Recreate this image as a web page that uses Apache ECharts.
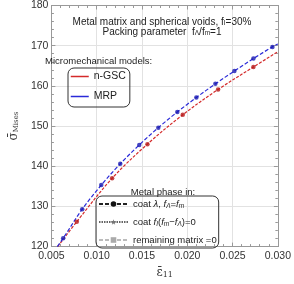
<!DOCTYPE html>
<html><head><meta charset="utf-8">
<script src="https://cdn.jsdelivr.net/npm/echarts@6/dist/echarts.min.js"></script>
<style>html,body{margin:0;padding:0;background:#fff}#c{width:294px;height:284px}</style>
</head><body><div id="c"></div>
<script>
// ---- data ----
const xMin = 0.005, xMax = 0.030, xStep = 0.005;
const yMin = 120, yMax = 180, yStep = 10;

const blueMarkEps = [0.0063, 0.0084, 0.0105, 0.0126, 0.0147, 0.0168, 0.0189, 0.0210, 0.0231, 0.0252, 0.0273, 0.0294];
const blueMarkSig = [122.1, 129.3, 135.3, 140.6, 145.3, 149.6, 153.5, 157.1, 160.5, 163.7, 166.8, 169.7];
const blueStart = [0.00565, 120.0];
const blueEnd = [0.0300, 170.4];

const redMarkEps = [0.0078, 0.0117, 0.0156, 0.0195, 0.0234, 0.0273];
const redMarkSig = [126.2, 137.0, 145.5, 152.8, 159.1, 164.7];
const redStart = [0.0057, 120.0];
const redEnd = [0.0300, 168.5];

const modelNames = ['n-GSC', 'MRP'];
const phaseNames = ['coatL', 'coatF', 'remain'];
// ---------------------------------------

const zip = (a, b) => a.map((v, i) => [v, b[i]]);
const redMarks = zip(redMarkEps, redMarkSig);
const blueMarks = zip(blueMarkEps, blueMarkSig);
const redLine = [redStart, ...redMarks, redEnd];
const blueLine = [blueStart, ...blueMarks, blueEnd];

const RED = '#d42a2a', REDM = '#b51818', BLUE = '#2a2ad8', BLUEM = '#1818b0';
const FONT = 'Liberation Sans';
const STAR = 'path://M50,0 L61,35 L98,35 L68,57 L79,91 L50,70 L21,91 L32,57 L2,35 L39,35 Z';

const chart = echarts.init(document.getElementById('c'), null, {renderer: 'canvas'});

const axisCommon = {
  axisLine: {show: true, lineStyle: {color: '#999', width: 1}},
  axisTick: {show: true, inside: true, length: 4, lineStyle: {color: '#999'}},
  minorTick: {show: true, splitNumber: 5, length: 2.5, lineStyle: {color: '#999'}}
};

const subRich = {
  i: {fontStyle: 'italic', fontFamily: FONT, fontSize: 9.5, color: '#222'},
  sub: {fontStyle: 'italic', fontFamily: FONT, fontSize: 6.5, verticalAlign: 'bottom', padding: [4, 0, 0, 0], color: '#222'},
  n: {fontFamily: FONT, fontSize: 9.5, color: '#222'}
};

const phaseLabels = {
  coatL: '{n|coat }{i|λ}{n|, }{i|f}{sub|Λ}{n|=}{i|f}{sub|m}',
  coatF: '{n|coat }{i|f}{sub|I}{n|(}{i|f}{sub|m}{n|−}{i|f}{sub|Λ}{n|)=0}',
  remain: '{n|remaining matrix =0}'
};

chart.setOption({
  animation: false,
  backgroundColor: '#fff',
  grid: {left: 32, right: 12, top: 5, bottom: 28},
  title: [
    {
      text: 'Metal matrix and spherical voids, f{s|I}=30%\nPacking parameter  f{s|Λ}/f{s|m}=1',
      left: 157, top: 12, textAlign: 'center',
      textStyle: {fontFamily: FONT, fontSize: 10, fontWeight: 'normal', color: '#222', lineHeight: 10,
        rich: {s: {fontFamily: FONT, fontSize: 6.5, verticalAlign: 'bottom', padding: [4, 0, 0, 0], color: '#222', lineHeight: 10}}}
    },
    {
      text: 'Micromechanical models:', left: 40, top: 51,
      textStyle: {fontFamily: FONT, fontSize: 9.5, fontWeight: 'normal', color: '#222'}
    },
    {
      text: 'Metal phase in:', left: 158, top: 182, textAlign: 'center',
      textStyle: {fontFamily: FONT, fontSize: 9.5, fontWeight: 'normal', color: '#222'}
    }
  ],
  legend: [
    {
      data: modelNames.map(n => ({name: n, lineStyle: {type: 'solid', width: 1.5}, itemStyle: {opacity: 0}})),
      orient: 'vertical', left: 68, top: 68, width: 54,
      padding: [3, 4, 5, 2], itemGap: 9, itemWidth: 18, itemHeight: 12,
      borderColor: '#333', borderWidth: 1, borderRadius: 6,
      textStyle: {fontFamily: FONT, fontSize: 10.5, color: '#222', width: 29},
      selectedMode: false
    },
    {
      data: phaseNames,
      orient: 'vertical', left: 96, top: 196,
      padding: [3, 2, 3, 2], itemGap: 7.5, itemWidth: 29, itemHeight: 7,
      borderColor: '#333', borderWidth: 1, borderRadius: 6,
      formatter: n => phaseLabels[n],
      textStyle: {fontFamily: FONT, fontSize: 9.5, color: '#222', rich: subRich},
      selectedMode: false
    }
  ],
  xAxis: [
    Object.assign({
      type: 'value', min: xMin, max: xMax, interval: xStep, position: 'bottom',
      name: 'ε\u0304{s|11}', nameLocation: 'middle', nameGap: 15,
      nameTextStyle: {fontFamily: 'DejaVu Serif', fontSize: 12, color: '#333',
        rich: {s: {fontFamily: 'DejaVu Serif', fontSize: 8, verticalAlign: 'bottom', padding: [5, 0, 0, 0], color: '#333'}}},
      axisLabel: {fontFamily: FONT, fontSize: 10.5, color: '#333', margin: 4, formatter: v => v.toFixed(3)},
      splitLine: {show: true, lineStyle: {color: '#e2e2e2', width: 1}}
    }, axisCommon),
    Object.assign({
      type: 'value', min: xMin, max: xMax, interval: xStep, position: 'top',
      axisLabel: {show: false}, splitLine: {show: false}
    }, axisCommon)
  ],
  yAxis: [
    Object.assign({
      type: 'value', min: yMin, max: yMax, interval: yStep, position: 'left',
      name: 'σ\u0304{s|Mises}', nameLocation: 'middle', nameGap: 21, nameRotate: 90,
      nameTextStyle: {fontFamily: 'DejaVu Serif', fontSize: 12, color: '#333',
        rich: {s: {fontFamily: 'DejaVu Serif', fontSize: 7, verticalAlign: 'bottom', padding: [5, 0, 0, 0], color: '#333'}}},
      axisLabel: {fontFamily: FONT, fontSize: 10.5, color: '#333', margin: 3},
      splitLine: {show: true, lineStyle: {color: '#e2e2e2', width: 1}}
    }, axisCommon),
    Object.assign({
      type: 'value', min: yMin, max: yMax, interval: yStep, position: 'right',
      axisLabel: {show: false}, splitLine: {show: false}
    }, axisCommon)
  ],
  series: [
    {name: 'n-GSC', type: 'line', data: redLine, smooth: 0.35, symbol: 'none',
      lineStyle: {color: RED, width: 1.2, type: [3, 1.5]}, itemStyle: {color: RED}, z: 3},
    {name: 'MRP', type: 'line', data: blueLine, smooth: 0.35, symbol: 'none',
      lineStyle: {color: BLUE, width: 1.2, type: [4, 2]}, itemStyle: {color: BLUE}, z: 3},
    {name: 'redMarks', type: 'scatter', data: redMarks, symbol: 'circle', symbolSize: 4.5,
      itemStyle: {color: REDM}, z: 4},
    {name: 'blueMarks', type: 'scatter', data: blueMarks, symbol: 'circle', symbolSize: 4.5,
      itemStyle: {color: BLUEM}, z: 4},
    {name: 'coatL', type: 'line', data: [], symbol: 'circle',
      lineStyle: {color: '#222', width: 2, type: [4, 2]}, itemStyle: {color: '#111'}},
    {name: 'coatF', type: 'line', data: [], symbol: STAR,
      lineStyle: {color: '#666', width: 1, type: [1.5, 1]}, itemStyle: {color: '#777'}},
    {name: 'remain', type: 'line', data: [], symbol: 'rect',
      lineStyle: {color: '#bbb', width: 1, type: [4, 2]}, itemStyle: {color: '#aaa'}}
  ]
});
</script></body></html>
